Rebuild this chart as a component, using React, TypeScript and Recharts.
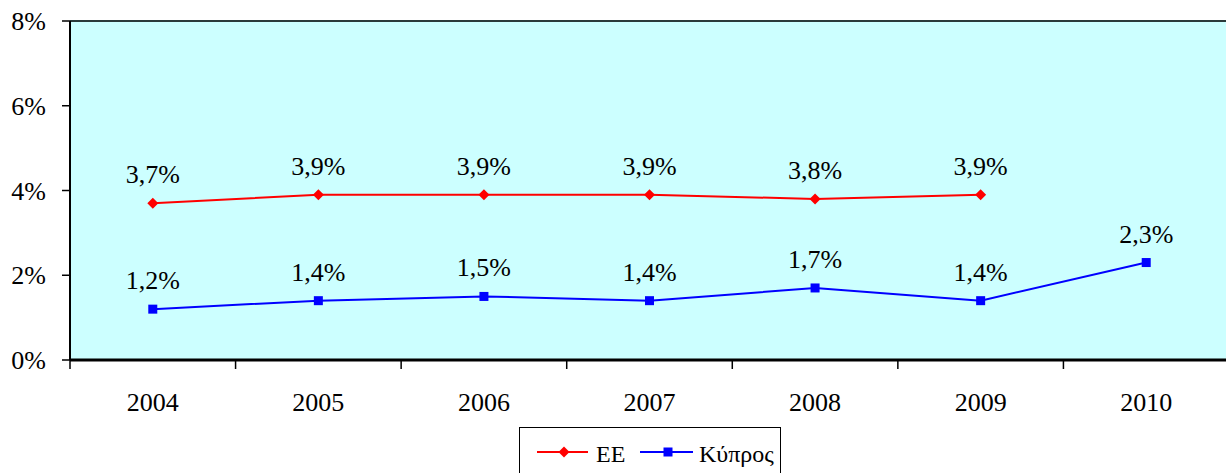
import React from 'react';
import { LineChart, Line, XAxis, YAxis, CartesianGrid, ReferenceLine, LabelList } from 'recharts';

const years = ['2004', '2005', '2006', '2007', '2008', '2009', '2010'];
const euValues: (number | null)[] = [3.7, 3.9, 3.9, 3.9, 3.8, 3.9, null];
const cyprusValues: number[] = [1.2, 1.4, 1.5, 1.4, 1.7, 1.4, 2.3];
const yTicks = [0, 2, 4, 6, 8];
const seriesNames = { eu: 'ΕΕ', cy: 'Κύπρος' };

const data = years.map((y, i) => ({ year: y, eu: euValues[i], cy: cyprusValues[i] }));

const FONT = 'Liberation Serif, Times New Roman, Times, serif';
const FS = 26;
const LFS = 24;
const textStyle = { fontFamily: FONT };

const fmt = (v: any) => (v == null ? '' : `${Number(v).toFixed(1).replace('.', ',')}%`);

const Diamond = (props: any) => {
  const { cx, cy } = props;
  if (cx == null || cy == null || props.value == null) return null;
  const r = 5.5;
  return <path d={`M${cx},${cy - r}L${cx + r},${cy}L${cx},${cy + r}L${cx - r},${cy}Z`} fill="#FF0000" stroke="none" />;
};

const Square = (props: any) => {
  const { cx, cy } = props;
  if (cx == null || cy == null || props.value == null) return null;
  const s = 9;
  return <rect x={cx - s / 2} y={cy - s / 2} width={s} height={s} fill="#0000FF" stroke="none" />;
};

const XTick = (props: any) => {
  const { x, y, payload } = props;
  const half = payload && typeof payload.offset === 'number' && payload.offset > 0 ? payload.offset : 82.75;
  const axisY = y - 8;
  return (
    <g>
      <line x1={x - half} x2={x - half} y1={axisY} y2={axisY + 9} stroke="#000" strokeWidth={1.5} />
      <text x={x} y={axisY + 51} textAnchor="middle" fill="#000" style={textStyle} fontSize={FS}>
        {payload.value}
      </text>
    </g>
  );
};

const LegendBox = () => (
  <div
    style={{
      position: 'absolute',
      left: 519,
      top: 427,
      width: 262,
      height: 60,
      border: '1.5px solid #000',
      background: '#fff',
      boxSizing: 'border-box',
    }}
  >
    <svg width={262} height={60} style={{ position: 'absolute', left: -1.5, top: -1.5 }}>
      <line x1={18} x2={69} y1={25} y2={25} stroke="#FF0000" strokeWidth={2} />
      <path d="M45,19.5L50.5,25L45,30.5L39.5,25Z" fill="#FF0000" />
      <text x={77} y={35} style={textStyle} fontSize={LFS} fill="#000">{seriesNames.eu}</text>
      <line x1={121} x2={174} y1={25} y2={25} stroke="#0000FF" strokeWidth={2} />
      <rect x={144.5} y={20.5} width={9} height={9} fill="#0000FF" />
      <text x={180} y={35} style={textStyle} fontSize={LFS} fill="#000">{seriesNames.cy}</text>
    </svg>
  </div>
);

export default function App() {
  return (
    <div style={{ position: 'absolute', left: 0, top: 0, width: 1226, height: 473, overflow: 'hidden', background: '#fff', fontFamily: FONT }}>
      <LineChart
        width={1231}
        height={473}
        data={data}
        margin={{ top: 21, right: 2, left: 0, bottom: 63 }}
        style={textStyle}
      >
        <CartesianGrid horizontal={false} vertical={false} fill="#CCFFFF" stroke="none" />
        <ReferenceLine y={8} stroke="#2a3a3a" strokeWidth={2} />
        <XAxis
          dataKey="year"
          scale="band"
          height={50}
          axisLine={{ stroke: '#000', strokeWidth: 3 }}
          tickLine={false}
          tickSize={8}
          tickMargin={0}
          interval={0}
          tick={<XTick />}
        />
        <YAxis
          width={70}
          domain={[0, 8]}
          ticks={yTicks}
          tickFormatter={(v: number) => `${v}%`}
          axisLine={{ stroke: '#000', strokeWidth: 2 }}
          tickLine={{ stroke: '#000', strokeWidth: 1.5 }}
          tickSize={8}
          tickMargin={16}
          tick={{ fill: '#000', fontSize: FS, style: textStyle }}
        />
        <Line
          dataKey="eu"
          name={seriesNames.eu}
          stroke="#FF0000"
          strokeWidth={2}
          dot={<Diamond />}
          activeDot={false}
          isAnimationActive={false}
          connectNulls={false}
        >
          <LabelList dataKey="eu" position="top" offset={20} formatter={fmt} fill="#000" fontSize={FS} style={textStyle} />
        </Line>
        <Line
          dataKey="cy"
          name={seriesNames.cy}
          stroke="#0000FF"
          strokeWidth={2}
          dot={<Square />}
          activeDot={false}
          isAnimationActive={false}
        >
          <LabelList dataKey="cy" position="top" offset={20} formatter={fmt} fill="#000" fontSize={FS} style={textStyle} />
        </Line>
      </LineChart>
      <LegendBox />
    </div>
  );
}
